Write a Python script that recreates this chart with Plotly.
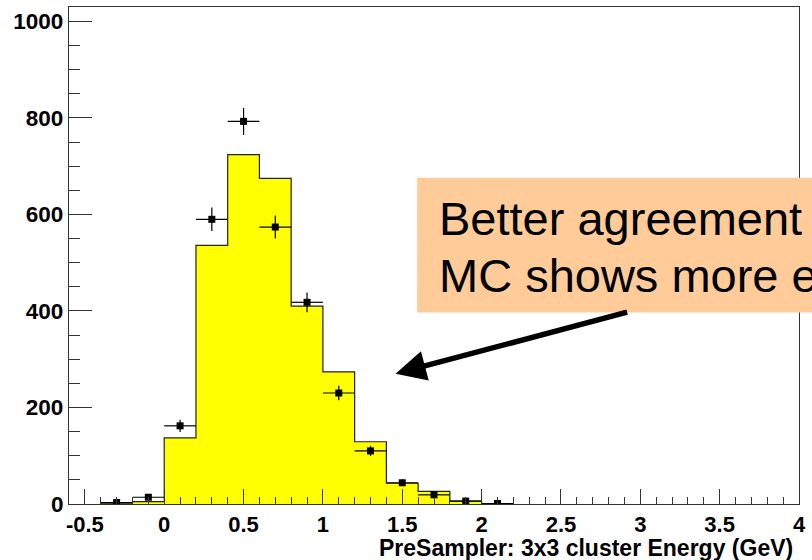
import numpy as np
import plotly.graph_objects as go

# Bin layout: 0.2 GeV wide bins starting at -0.4 GeV
bin_width = 0.2
bin_left = [-0.4, -0.2, 0.0, 0.2, 0.4, 0.6, 0.8, 1.0, 1.2, 1.4, 1.6, 1.8, 2.0]
bin_centers = [round(b + bin_width / 2, 2) for b in bin_left]

# Simulated (MC) histogram contents
mc_counts = [2, 5, 137, 536, 724, 675, 410, 274, 129, 43, 26, 6, 0]
# Measured data contents
data_counts = [3, 14, 162, 590, 793, 574, 418, 230, 110, 44, 19, 6, 1]

x_ticks = [-0.5, 0, 0.5, 1, 1.5, 2, 2.5, 3, 3.5, 4]
x_tick_text = ["-0.5", "0", "0.5", "1", "1.5", "2", "2.5", "3", "3.5", "4"]
y_ticks = [0, 200, 400, 600, 800, 1000]

x_title = "PreSampler: 3x3 cluster Energy (GeV)"
note_line1 = "Better agreement"
note_line2 = "MC shows more energy"

# plot area geometry in pixels (used for paper coordinates of the overlays)
W, H = 812, 560
ML, MR, MT, MB = 69, 7, 6, 56
PW, PH = W - ML - MR, H - MT - MB


def px_to_paper_x(px):
    return (px - ML) / PW


def px_to_paper_y(py):
    return (H - MB - py) / PH


fig = go.Figure()

# yellow filled MC histogram
fig.add_trace(go.Bar(
    x=bin_centers, y=mc_counts, width=bin_width,
    marker=dict(color="#FFFF00", line=dict(width=0)),
    showlegend=False, hoverinfo="skip",
))

# step outline of the MC histogram
step_x = [bin_left[0]] + bin_left + [bin_left[-1] + bin_width]
step_y = [0] + mc_counts + [mc_counts[-1]]
fig.add_trace(go.Scatter(
    x=step_x, y=step_y, mode="lines", line=dict(shape="hv", color="#222222", width=1.2),
    showlegend=False, hoverinfo="skip",
))

# data points with sqrt(N) errors and bin-width horizontal bars
fig.add_trace(go.Scatter(
    x=bin_centers, y=data_counts, mode="markers",
    marker=dict(symbol="square", size=7, color="black"),
    error_y=dict(type="data", array=list(np.sqrt(data_counts)), width=0, thickness=1.2, color="black"),
    error_x=dict(type="data", array=[bin_width / 2] * len(bin_centers), width=0, thickness=1.2, color="black"),
    showlegend=False,
))

tick_font = dict(family="Liberation Sans, Arial, sans-serif", size=22, color="black", weight="bold")

fig.update_layout(
    width=W, height=H,
    margin=dict(l=ML, r=MR, t=MT, b=MB, pad=0),
    paper_bgcolor="white", plot_bgcolor="white",
    bargap=0,
    xaxis=dict(
        range=[-0.6, 4.0], showgrid=False, zeroline=False,
        showline=True, linecolor="#333333", linewidth=1.2, mirror=True,
        tickmode="array", tickvals=x_ticks, ticktext=x_tick_text,
        ticks="inside", ticklen=15, tickwidth=1.2, tickcolor="#333333",
        tickfont=tick_font,
        minor=dict(dtick=0.1, tick0=0, ticks="inside", ticklen=7, tickwidth=1.2, tickcolor="#333333"),
    ),
    yaxis=dict(
        range=[0, 1030], showgrid=False, zeroline=False,
        showline=True, linecolor="#333333", linewidth=1.2, mirror=True,
        tickmode="array", tickvals=y_ticks,
        ticks="inside", ticklen=23, tickwidth=1.2, tickcolor="#333333",
        tickfont=dict(tick_font, size=22.5),
        minor=dict(dtick=50, tick0=0, ticks="inside", ticklen=11, tickwidth=1.2, tickcolor="#333333"),
    ),
)

# axis title, right-aligned under the x axis
fig.add_annotation(
    text=x_title, xref="paper", yref="paper",
    x=px_to_paper_x(801), y=px_to_paper_y(548), xanchor="right", yanchor="middle",
    showarrow=False,
    font=dict(family="Liberation Sans, Arial, sans-serif", size=23, color="black", weight="bold"),
)

# peach comment box
fig.add_shape(
    type="rect", xref="paper", yref="paper", layer="above",
    x0=px_to_paper_x(420), x1=px_to_paper_x(840),
    y0=px_to_paper_y(312), y1=px_to_paper_y(177),
    fillcolor="#FFCC99", line=dict(width=0),
)

note_font = dict(family="Liberation Sans, Arial, sans-serif", size=47, color="black")
fig.add_annotation(
    text=note_line1, xref="paper", yref="paper",
    x=px_to_paper_x(440), y=px_to_paper_y(218), xanchor="left", yanchor="middle",
    showarrow=False, font=note_font,
)
fig.add_annotation(
    text=note_line2, xref="paper", yref="paper",
    x=px_to_paper_x(440), y=px_to_paper_y(275), xanchor="left", yanchor="middle",
    showarrow=False, font=note_font,
)

# arrow pointing at the high-energy tail
fig.add_annotation(
    text="", x=1.458, y=270, xref="x", yref="y",
    showarrow=True, ax=233, ay=-62, axref="pixel", ayref="pixel",
    arrowhead=2, arrowsize=1.1, arrowwidth=5.5, arrowcolor="black", standoff=0,
)

fig.write_html("out.html")
